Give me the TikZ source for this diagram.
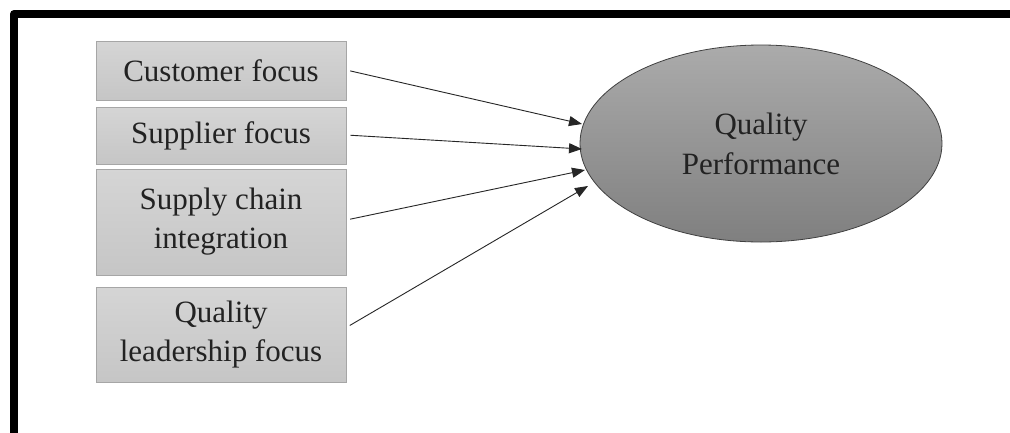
\documentclass[tikz,border=0pt]{standalone}
\usepackage{fontspec}
\setmainfont{Liberation Serif}
\newfontfamily\tnr{Liberation Serif}
\usetikzlibrary{shapes.geometric,arrows.meta,calc}
\definecolor{txt}{HTML}{222222}
\tikzset{
  factor/.style={draw=gray!70, line width=0.6pt, top color=gray!33, bottom color=gray!45,
    minimum width=250pt, align=center, text=txt, inner sep=0pt,
    font=\tnr\fontsize{31}{39}\selectfont},
  outcome/.style={ellipse, draw=black!75, line width=0.8pt, top color=black!33, bottom color=black!50,
    minimum width=362pt, minimum height=197pt, inner sep=0pt, align=center, text=txt,
    font=\tnr\fontsize{31}{40}\selectfont},
  link/.style={draw=black!85, line width=0.9pt, -{Triangle[length=13pt,width=10pt]}, shorten <=4pt},
}
\begin{document}
\begin{tikzpicture}[x=1pt,y=-1pt]
\useasboundingbox (0,0) rectangle (1010,432);
\fill[white] (0,0) rectangle (1010,432);
\draw[line width=8pt, line join=round] (14,440) -- (14,14) -- (1015,14);
\node[factor, minimum height=59pt] (cf) at (221,70.5) {Customer focus};
\node[factor, minimum height=57pt] (sf) at (221,135.5) {Supplier focus};
\node[factor, minimum height=106pt] (sc) at (221,222) {Supply chain\\integration};
\node[factor, minimum height=95pt] (ql) at (221,334.5) {Quality\\leadership focus};
\node[outcome] (qp) at (761,143.5) {Quality\\Performance};
\coordinate (t1) at ($(qp.center)+(-179,-19.5)$);
\coordinate (t2) at ($(qp.center)+(-179,5.5)$);
\coordinate (t3) at ($(qp.center)+(-176,26.5)$);
\coordinate (t4) at ($(qp.center)+(-173,42.5)$);
\draw[link] ([yshift=0.5pt]cf.east) -- (t1);
\draw[link] ([yshift=0.5pt]sf.east) -- (t2);
\draw[link] ([yshift=2pt]sc.east) -- (t3);
\draw[link] ([yshift=7pt]ql.east) -- (t4);
\end{tikzpicture}
\end{document}
